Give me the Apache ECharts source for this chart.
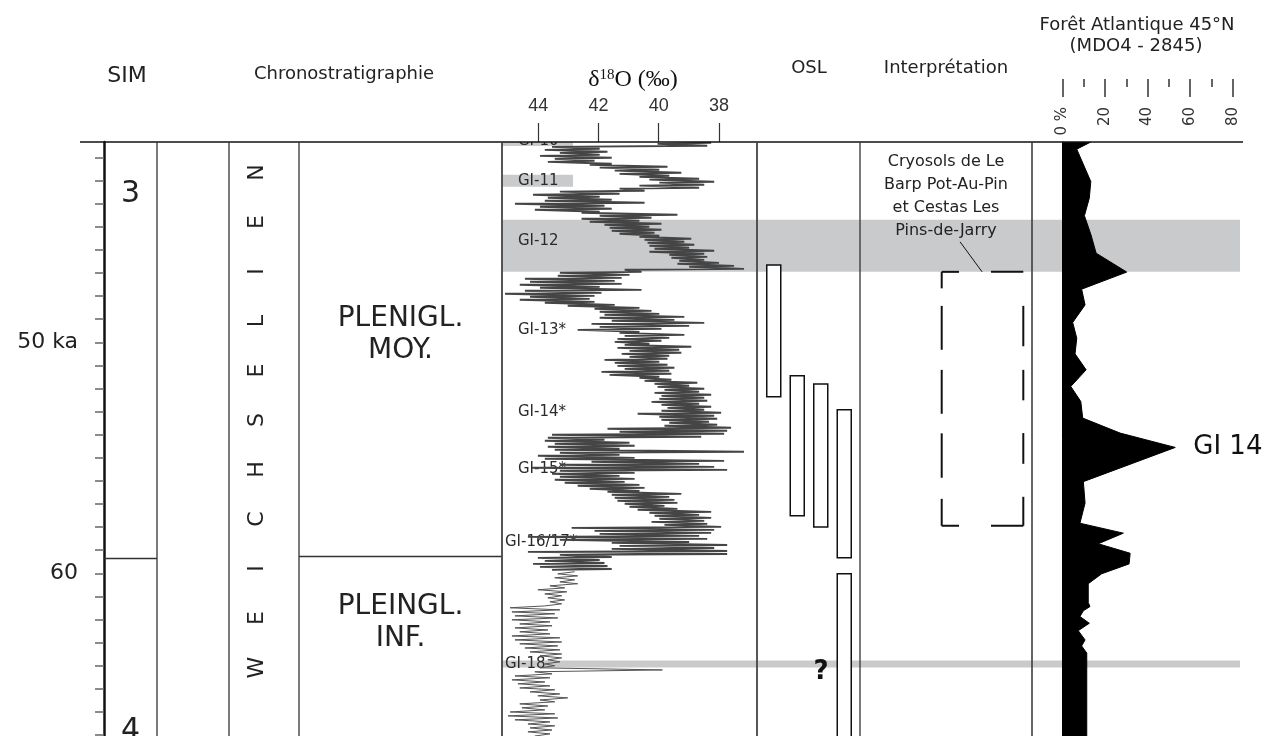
<!DOCTYPE html>
<html><head><meta charset="utf-8">
<script src="https://cdn.jsdelivr.net/npm/echarts@6/dist/echarts.min.js"></script>
<style>html,body{margin:0;padding:0;background:#fff}#c{width:1265px;height:736px}</style>
</head><body><div id="c"></div>
<script>
// ---------------- DATA ----------------
const ageTicks = [42,43,44,45,46,47,48,49,50,51,52,53,54,55,56,57,58,59,60,61,62,63,64,65,66,67];
const ageLabelValues = [50, 60];
const ageLabelText = ['50 ka', '60'];
const d18oTicks = [44, 42, 40, 38];

const misNames = ['3', '4'];
const misLabelAge = [43.57, 66.85];
const misBoundary = 59.36;

const chronoUnits = ['PLENIGL.\nMOY.', 'PLEINGL.\nINF.'];
const chronoLabelAge = [49.68, 62.14];
const chronoBoundary = 59.27;

// NGRIP-like δ18O (‰, plotted as positive values on reversed axis) — dense part
const d18oAge = [
41.36,41.41,41.49,41.54,41.62,41.67,41.75,41.80,41.88,41.93,42.01,42.06,42.14,42.19,42.27,42.32,42.40,42.44,42.53,42.57,
42.66,42.71,42.79,42.84,42.92,42.96,43.05,43.09,43.18,43.22,43.31,43.35,43.44,43.48,43.57,43.61,43.70,43.74,43.83,43.87,
43.96,44.00,44.09,44.13,44.22,44.26,44.35,44.39,44.48,44.52,44.61,44.65,44.74,44.78,44.87,44.91,45.00,45.04,45.13,45.17,
45.26,45.30,45.39,45.43,45.52,45.56,45.65,45.69,45.78,45.82,45.91,45.95,46.04,46.08,46.17,46.21,46.30,46.34,46.43,46.47,
46.56,46.60,46.69,46.73,46.82,46.86,46.95,46.99,47.08,47.12,47.21,47.25,47.34,47.38,47.47,47.51,47.60,47.64,47.73,47.77,
47.86,47.90,47.99,48.03,48.12,48.16,48.25,48.29,48.38,48.42,48.51,48.55,48.64,48.68,48.77,48.81,48.90,48.94,49.03,49.07,
49.16,49.20,49.29,49.33,49.42,49.46,49.55,49.59,49.68,49.72,49.81,49.85,49.93,49.98,50.06,50.11,50.19,50.24,50.32,50.37,
50.45,50.50,50.58,50.63,50.71,50.76,50.84,50.89,50.97,51.02,51.10,51.15,51.23,51.28,51.36,51.41,51.49,51.54,51.62,51.67,
51.75,51.80,51.88,51.93,52.01,52.06,52.14,52.19,52.27,52.32,52.40,52.45,52.53,52.58,52.66,52.71,52.79,52.84,52.92,52.96,
53.05,53.09,53.18,53.22,53.31,53.35,53.44,53.48,53.57,53.61,53.70,53.74,53.83,53.87,53.96,54.00,54.09,54.13,54.22,54.26,
54.35,54.39,54.48,54.52,54.61,54.65,54.74,54.78,54.87,54.91,55.00,55.04,55.13,55.17,55.26,55.30,55.39,55.43,55.52,55.56,
55.65,55.69,55.78,55.82,55.91,55.95,56.04,56.08,56.17,56.21,56.30,56.34,56.43,56.47,56.56,56.60,56.69,56.73,56.82,56.86,
56.95,56.99,57.08,57.12,57.21,57.25,57.34,57.38,57.47,57.51,57.60,57.64,57.73,57.77,57.86,57.90,57.99,58.03,58.12,58.16,
58.25,58.29,58.38,58.42,58.51,58.55,58.64,58.68,58.77,58.81,58.90,58.94,59.03,59.07,59.16,59.20,59.29,59.33,59.42,59.46,
59.55,59.59,59.68,59.72,59.81,59.85
];
const d18oValue = [
38.26,40.04,38.39,43.54,41.96,43.78,41.70,43.28,41.96,43.94,41.56,43.45,42.13,43.68,41.56,42.29,39.71,41.96,39.98,41.46,
39.25,41.30,39.65,40.64,38.66,40.31,38.16,39.98,38.49,40.64,38.66,41.30,40.47,43.28,41.30,44.17,41.96,43.68,41.56,43.78,
40.47,44.77,41.80,43.94,41.56,44.11,41.96,42.56,39.38,41.96,40.24,42.56,40.64,42.29,39.91,41.80,40.31,41.63,39.91,41.56,
40.14,41.30,39.98,40.64,38.92,40.47,39.15,40.37,38.82,40.31,38.99,40.14,38.16,40.31,38.49,39.65,38.39,39.58,38.49,39.32,
38.00,39.38,37.50,38.99,37.17,41.13,40.57,43.28,40.97,43.35,41.23,44.44,41.46,44.27,41.23,44.61,41.96,43.94,40.57,44.44,
41.90,45.10,42.13,44.27,42.29,44.61,42.13,43.78,41.46,43.02,40.64,42.13,40.24,41.96,39.98,41.80,39.15,41.96,39.48,41.56,
38.49,42.23,38.99,41.96,39.91,42.69,40.64,41.30,39.15,41.13,39.65,41.37,39.91,41.46,40.31,41.13,38.92,41.37,39.32,40.97,
39.25,41.23,39.65,40.97,39.71,41.80,39.98,41.46,39.71,41.37,39.48,41.13,39.65,41.90,39.58,41.63,39.98,40.64,39.58,40.47,
38.72,40.14,38.99,40.04,38.49,39.81,38.66,40.14,38.26,39.91,38.49,39.98,38.39,40.24,38.66,39.91,38.26,39.71,38.49,39.91,
37.93,40.70,38.16,39.98,38.06,39.91,38.33,39.65,38.06,39.81,37.60,41.70,37.73,41.30,37.83,43.54,38.59,43.68,41.80,43.78,
40.97,43.45,40.80,43.68,41.30,43.45,37.17,43.28,41.30,44.01,40.80,43.78,37.83,42.23,38.66,43.28,38.16,44.21,37.73,43.28,
40.80,43.54,41.30,43.28,40.80,43.45,41.13,43.12,40.64,42.69,40.47,42.29,40.64,41.70,39.25,41.56,39.65,41.46,39.48,41.37,
39.38,41.13,39.81,40.97,39.38,40.70,38.26,40.31,38.66,40.14,38.26,39.98,38.49,40.24,38.39,39.81,37.93,42.89,38.16,42.13,
38.26,41.96,38.66,44.34,38.39,43.28,38.99,41.56,37.73,41.30,38.16,41.56,37.73,44.34,37.73,43.28,41.56,44.01,41.96,43.78,
41.80,44.17,41.70,43.94,41.56,43.54
];
// thin (older) part of the δ18O record
const d18oThinAge = [
59.93,60.02,60.11,60.19,60.28,60.37,60.45,60.54,60.63,60.71,60.80,60.89,60.97,61.06,61.15,61.23,61.32,61.41,61.49,61.58,
61.67,61.75,61.84,61.93,62.01,62.10,62.19,62.27,62.36,62.45,62.53,62.62,62.71,62.79,62.88,62.97,63.05,63.14,63.23,63.31,
63.40,63.49,63.57,63.66,63.74,63.83,63.92,64.00,64.09,64.18,64.26,64.35,64.44,64.52,64.61,64.70,64.78,64.87,64.96,65.04,
65.13,65.22,65.30,65.39,65.48,65.56,65.65,65.74,65.82,65.91,66.00,66.08,66.17,66.26,66.34,66.43,66.52,66.60,66.69,66.78,
66.86,66.95,67.04,67.21
];
const d18oThinValue = [
42.79,43.35,42.69,43.45,42.79,43.28,42.69,43.61,43.12,44.01,43.05,43.78,43.22,43.68,43.12,43.61,43.22,43.78,44.93,43.28,
44.87,43.45,44.77,43.35,44.87,43.61,44.61,43.54,44.77,43.68,44.61,43.61,44.87,43.28,44.77,43.22,44.61,43.35,44.44,43.28,
44.27,43.22,43.94,43.22,43.68,43.28,43.78,43.45,43.94,39.88,44.11,43.54,44.77,43.61,44.87,43.78,44.67,43.61,44.61,43.45,
44.27,43.28,44.01,43.02,43.94,43.45,44.61,43.68,44.54,43.78,44.93,43.45,45.00,43.35,44.77,43.61,44.34,43.45,44.27,43.54,
44.34,43.61,44.11,43.94
];

// Greenland interstadials
const giLabels = ['GI-10','GI-11','GI-12','GI-13*','GI-14*','GI-15*','GI-16/17*','GI-18'];
const giLabelAge = [41.30, 43.01, 45.60, 49.46, 53.00, 55.48, 58.64, 63.91];
const giBandName = ['GI-10','GI-11','GI-12','GI-18'];
const giBandStart = [41.20, 42.75, 44.70, 63.77];
const giBandEnd = [41.50, 43.27, 46.95, 64.07];
const giBandAcrossAll = [false, false, true, true];

// OSL ages (ka)
const oslLaneNames = ['A','B','C','D'];
const oslLane = ['A','B','C','D','D'];
const oslStart = [46.65, 51.45, 51.80, 52.92, 60.02];
const oslEnd = [52.36, 57.51, 57.99, 59.33, 68.00];

// Interpretation (cryosols)
const interpStart = 46.95, interpEnd = 57.94;
const interpText = 'Cryosols de Le\nBarp Pot-Au-Pin\net Cestas Les\nPins-de-Jarry';

// Atlantic forest pollen (%)
const pollenAge = [41.33,41.64,43.04,43.76,44.52,45.35,46.14,46.96,47.70,48.38,49.14,49.82,50.50,51.19,51.91,52.56,53.28,53.93,54.55,56.03,
56.96,57.83,58.26,58.72,59.13,59.59,60.02,60.45,61.26,61.44,61.62,61.87,62.16,62.48,62.88,63.14,63.45,67.10];
const pollenPct = [13.3,6.7,13.3,12.6,10.3,13.4,15.8,30.2,9.0,10.6,4.8,6.7,5.9,11.1,3.9,8.6,9.5,27.1,53.0,9.8,
10.6,8.2,28.6,16.8,31.8,31.3,18.4,12.1,12.1,12.9,9.8,8.2,12.6,7.4,10.6,9.0,11.4,11.4];
const pollenPeakName = 'GI 14';

// ---------------- CHART ----------------
const FONT = 'DejaVu Sans';
const AGE_MIN = 41.33, AGE_MAX = 67.04;
const TOP = 142, H = 594;
const BAND_COLOR = '#c9cacb';
const SHORT_BAND_W = 71;

function txtStyle(o) {
  const s = Object.assign({fontFamily: FONT, fill: '#222'}, o);
  if (s.align) s.textAlign = s.align;
  if (s.verticalAlign) s.textVerticalAlign = s.verticalAlign;
  return s;
}

const grids = [
  {left: 104, top: TOP, width: 53, height: H},     // 0 SIM
  {left: 502, top: TOP, width: 255, height: H},    // 1 d18O
  {left: 299, top: TOP, width: 203, height: H},    // 2 chrono
  {left: 762, top: TOP, width: 94, height: H},     // 3 OSL
  {left: 941.7, top: TOP, width: 81.6, height: H}, // 4 interpretation box
  {left: 1062.5, top: TOP, width: 170.2, height: H}, // 5 pollen
  {left: 502, top: TOP, width: 738, height: H}     // 6 bands
].map(g => Object.assign(g, {containLabel: false, outerBoundsMode: 'none'}));

const hiddenX = i => ({type: 'value', gridIndex: i, min: 0, max: 1, show: false});
const ageAxis = (i, extra) => Object.assign({type: 'value', gridIndex: i, min: AGE_MIN, max: AGE_MAX, inverse: true, show: false, splitLine: {show: false}}, extra || {});

const xAxes = [
  hiddenX(0),
  {type: 'value', gridIndex: 1, min: 36.74, max: 45.2, inverse: true, position: 'top',
   axisLine: {show: false}, splitLine: {show: false},
   axisTick: {show: true, customValues: d18oTicks, length: 19, lineStyle: {color: '#333', width: 1.2}},
   axisLabel: {show: true, customValues: d18oTicks, fontSize: 18, fontFamily: 'Liberation Sans', color: '#333', margin: 27}},
  hiddenX(2),
  {type: 'category', gridIndex: 3, data: oslLaneNames, show: false},
  hiddenX(4),
  {type: 'value', gridIndex: 5, min: 0, max: 80, interval: 20, position: 'top', offset: 63,
   axisLine: {show: false}, splitLine: {show: false}, minorSplitLine: {show: false},
   axisTick: {show: true, inside: true, length: 18, lineStyle: {color: '#333', width: 1.5}},
   minorTick: {show: true, splitNumber: 2, length: 8, lineStyle: {color: '#333', width: 1.5}},
   axisLabel: {show: true, inside: true, rotate: -90, margin: 28, fontSize: 15, fontFamily: FONT, color: '#333',
     formatter: v => v === 0 ? '0 %' : String(v)}},
  hiddenX(6)
];

const yAxes = [
  ageAxis(0, {show: true,
    axisLine: {show: true, lineStyle: {color: '#111', width: 2.5}},
    axisTick: {show: true, customValues: ageTicks, length: 9, lineStyle: {color: '#666', width: 1.5}},
    axisLabel: {show: true, customValues: ageLabelValues, margin: 26, fontSize: 22, fontFamily: FONT, color: '#222',
      formatter: v => ageLabelText[ageLabelValues.indexOf(v)]}}),
  ageAxis(1), ageAxis(2), ageAxis(3), ageAxis(4),
  ageAxis(5, {show: true, axisLine: {show: true, lineStyle: {color: '#6b6b6b', width: 1.5}},
    axisTick: {show: false}, axisLabel: {show: false}}),
  ageAxis(6)
];

const boundaryLine = (idx, age) => ({
  type: 'line', xAxisIndex: idx, yAxisIndex: idx, data: [], silent: true,
  markLine: {symbol: 'none', silent: true, animation: false, label: {show: false},
    lineStyle: {color: '#333', width: 1.3, type: 'solid'}, data: [{yAxis: age}]}
});

const series = [
  // GI bands
  {type: 'custom', xAxisIndex: 6, yAxisIndex: 6, z: 1, clip: true, silent: true,
   data: giBandName.map((n, i) => [0, giBandStart[i], giBandEnd[i]]),
   encode: {x: 0, y: [1, 2]},
   renderItem: (params, api) => {
     const cs = params.coordSys;
     const i = params.dataIndex;
     const y0 = api.coord([0, api.value(1)])[1];
     const y1 = api.coord([0, api.value(2)])[1];
     return {type: 'rect', shape: {x: cs.x, y: y0, width: giBandAcrossAll[i] ? cs.width : SHORT_BAND_W, height: y1 - y0},
       style: {fill: BAND_COLOR}};
   }},
  // GI labels
  {type: 'custom', xAxisIndex: 1, yAxisIndex: 1, z: 2, clip: true, silent: true,
   data: giLabels.map((n, i) => [45, giLabelAge[i]]),
   encode: {x: 0, y: 1},
   renderItem: (params, api) => {
     const cs = params.coordSys;
     const name = giLabels[params.dataIndex];
     const y = api.coord([45, api.value(1)])[1];
     const indent = (name === 'GI-16/17*' || name === 'GI-18') ? 3 : 16;
     return {type: 'text', x: cs.x + indent, y: y,
       style: txtStyle({text: name, fontSize: 15, fill: '#2a2a2a', align: 'left', verticalAlign: 'middle'})};
   }},
  // d18O dense
  {type: 'line', xAxisIndex: 1, yAxisIndex: 1, z: 4, silent: true, showSymbol: false, symbol: 'none',
   data: d18oAge.map((a, i) => [d18oValue[i], a]),
   lineStyle: {color: '#454545', width: 1.9}},
  // d18O thin
  {type: 'line', xAxisIndex: 1, yAxisIndex: 1, z: 4, silent: true, showSymbol: false, symbol: 'none',
   data: d18oThinAge.map((a, i) => [d18oThinValue[i], a]),
   lineStyle: {color: '#555', width: 1}},
  // MIS boundary & labels
  boundaryLine(0, misBoundary),
  {type: 'custom', xAxisIndex: 0, yAxisIndex: 0, z: 5, silent: true,
   data: misNames.map((n, i) => [0.5, misLabelAge[i]]), encode: {x: 0, y: 1},
   renderItem: (params, api) => {
     const cs = params.coordSys;
     const y = api.coord([0.5, api.value(1)])[1];
     return {type: 'text', x: cs.x + cs.width / 2, y: y,
       style: txtStyle({text: misNames[params.dataIndex], fontSize: 30, fill: '#222', align: 'center', verticalAlign: 'middle'})};
   }},
  // Chrono boundary & labels
  boundaryLine(2, chronoBoundary),
  {type: 'custom', xAxisIndex: 2, yAxisIndex: 2, z: 5, silent: true,
   data: chronoUnits.map((n, i) => [0.5, chronoLabelAge[i]]), encode: {x: 0, y: 1},
   renderItem: (params, api) => {
     const cs = params.coordSys;
     const y = api.coord([0.5, api.value(1)])[1];
     return {type: 'text', x: cs.x + cs.width / 2, y: y,
       style: txtStyle({text: chronoUnits[params.dataIndex], fontSize: 28, lineHeight: 32, fill: '#222', align: 'center', verticalAlign: 'middle'})};
   }},
  // OSL boxes
  {type: 'custom', xAxisIndex: 3, yAxisIndex: 3, z: 5, silent: true,
   data: oslLane.map((l, i) => [l, oslStart[i], oslEnd[i]]), encode: {x: 0, y: [1, 2]},
   renderItem: (params, api) => {
     const c0 = api.coord([api.value(0), api.value(1)]);
     const c1 = api.coord([api.value(0), api.value(2)]);
     return {type: 'rect', shape: {x: c0[0] - 7, y: c0[1], width: 14, height: c1[1] - c0[1]},
       style: {fill: '#fff', stroke: '#111', lineWidth: 1.5}};
   }},
  // Interpretation dashed box
  {type: 'custom', xAxisIndex: 4, yAxisIndex: 4, z: 5, silent: true,
   data: [[0, interpStart, interpEnd]], encode: {x: 0, y: [1, 2]},
   renderItem: (params, api) => {
     const cs = params.coordSys;
     const yT = api.coord([0, api.value(1)])[1];
     const yB = api.coord([0, api.value(2)])[1];
     const h = yB - yT, x0 = cs.x, w = cs.width, x1 = cs.x + w;
     const segs = [];
     [[0, .065], [.134, .307], [.386, .559], [.636, .811], [.894, 1]].forEach(d => segs.push([x0, yT + d[0] * h, x0, yT + d[1] * h]));
     [[.134, .293], [.386, .506], [.635, .756], [.886, 1]].forEach(d => segs.push([x1, yT + d[0] * h, x1, yT + d[1] * h]));
     [[0, .212], [.604, 1]].forEach(d => {
       segs.push([x0 + d[0] * w, yT, x0 + d[1] * w, yT]);
       segs.push([x0 + d[0] * w, yB, x0 + d[1] * w, yB]);
     });
     const children = segs.map(s => ({type: 'line', shape: {x1: s[0], y1: s[1], x2: s[2], y2: s[3]},
       style: {stroke: '#111', lineWidth: 2}}));
     children.push({type: 'line', shape: {x1: x0 + 0.225 * w, y1: yT - 30, x2: x0 + 0.495 * w, y2: yT},
       style: {stroke: '#111', lineWidth: 1}});
     return {type: 'group', children};
   }},
  // Pollen filled curve
  {type: 'custom', xAxisIndex: 5, yAxisIndex: 5, z: 3, clip: true, silent: true,
   data: [[0, pollenAge[0]]], encode: {x: 0, y: 1},
   renderItem: (params, api) => {
     const pts = [api.coord([0, pollenAge[0]])];
     pollenAge.forEach((a, i) => pts.push(api.coord([pollenPct[i], a])));
     pts.push(api.coord([0, pollenAge[pollenAge.length - 1]]));
     return {type: 'polygon', shape: {points: pts}, style: {fill: '#000', stroke: '#000', lineWidth: 1}};
   }},
  // Pollen peak label
  {type: 'scatter', xAxisIndex: 5, yAxisIndex: 5, z: 6, silent: true, symbolSize: 0,
   itemStyle: {opacity: 1},
   data: [[pollenPct[pollenAge.indexOf(54.55)], 54.55]],
   label: {show: true, position: 'right', distance: 18, formatter: pollenPeakName, fontSize: 26, fontFamily: FONT,
     color: '#111', opacity: 1}}
];

const vLine = (x, color, w) => ({type: 'line', z: 10, silent: true, shape: {x1: x, y1: TOP, x2: x, y2: TOP + H}, style: {stroke: color, lineWidth: w}});
const gText = (x, y, text, size, extra) => ({type: 'text', z: 10, silent: true, x, y,
  style: txtStyle(Object.assign({text, fontSize: size, align: 'center', verticalAlign: 'middle'}, extra || {}))});

const graphic = [
  {type: 'line', z: 10, silent: true, shape: {x1: 80, y1: TOP, x2: 1243, y2: TOP}, style: {stroke: '#111', lineWidth: 1.5}},
  vLine(157, '#333', 1.3), vLine(229, '#333', 1.3), vLine(299, '#333', 1.3),
  vLine(502, '#444', 1.8), vLine(757, '#444', 1.8), vLine(860, '#333', 1.3), vLine(1032, '#333', 1.5),
  gText(127, 76, 'SIM', 22),
  gText(344, 74, 'Chronostratigraphie', 18),
  gText(809, 68, 'OSL', 18),
  gText(946, 68, 'Interprétation', 18),
  gText(1137, 25, 'Forêt Atlantique 45°N', 18),
  gText(1136, 46, '(MDO4 - 2845)', 18),
  {type: 'text', z: 10, silent: true, x: 633, y: 80,
   style: txtStyle({text: '{a|δ}{s|18}{a|O (‰)}', align: 'center', verticalAlign: 'middle',
     rich: {a: {fontSize: 24, fontFamily: 'Liberation Serif', fill: '#111'},
            s: {fontSize: 15, fontFamily: 'Liberation Serif', fill: '#111', verticalAlign: 'top'}}})},
  {type: 'text', z: 10, silent: true, x: 257, y: 420, rotation: Math.PI / 2,
   style: txtStyle({text: '{c|W}{c|E}{c|I}{c|C}{c|H}{c|S}{c|E}{c|L}{c|I}{c|E}{c|N}', align: 'center', verticalAlign: 'middle',
     rich: {c: {width: 49.5, align: 'center', fontSize: 22, fontFamily: FONT, fill: '#222'}}})},
  gText(946, 196, interpText, 16, {lineHeight: 23}),
  gText(821, 672, '?', 26, {fill: '#111', fontWeight: 'bold'})
];

const chart = echarts.init(document.getElementById('c'), null, {renderer: 'canvas'});
chart.setOption({
  animation: false,
  backgroundColor: '#fff',
  textStyle: {fontFamily: FONT},
  grid: grids,
  xAxis: xAxes,
  yAxis: yAxes,
  series: series,
  graphic: graphic
});
</script></body></html>
